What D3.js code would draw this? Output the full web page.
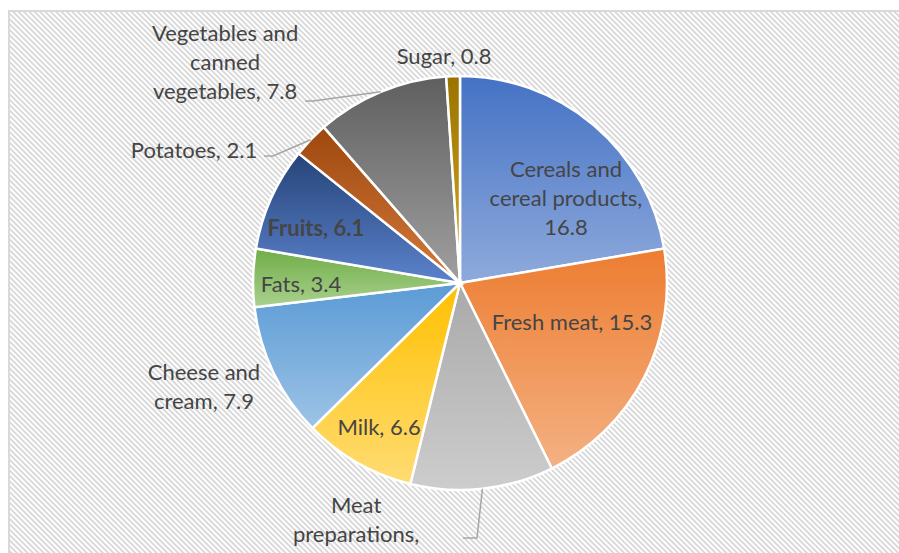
<!DOCTYPE html>
<html lang="en">
<head>
    <meta charset="UTF-8">
    <title>Food expenditure shares</title>
    <script src="https://cdnjs.cloudflare.com/ajax/libs/d3/7.8.5/d3.min.js"></script>
    <style>
        body {
            margin: 0;
            padding: 0;
            background-color: #ffffff;
            overflow: hidden;
        }
        #chart svg {
            display: block;
        }
        .label {
            font-family: Lato, 'Open Sans', sans-serif;
            font-size: 22px;
            fill: #454545;
        }
    </style>
</head>
<body>
    <div id="chart"></div>

    <script>
        // Data (clockwise from 12 o'clock)
        const categories = [
            "Cereals and cereal products", "Fresh meat", "Meat preparations", "Milk",
            "Cheese and cream", "Fats", "Fruits", "Potatoes",
            "Vegetables and canned vegetables", "Sugar"
        ];
        const values = [16.8, 15.3, 8.4, 6.6, 7.9, 3.4, 6.1, 2.1, 7.8, 0.8];
        // label text lines as they wrap in the picture
        // (the value line of "Meat preparations" falls below the picture's edge)
        const labelLines = [
            ["Cereals and", "cereal products,", "16.8"],
            ["Fresh meat, 15.3"],
            ["Meat", "preparations,"],
            ["Milk, 6.6"],
            ["Cheese and", "cream, 7.9"],
            ["Fats, 3.4"],
            ["Fruits, 6.1"],
            ["Potatoes, 2.1"],
            ["Vegetables and", "canned", "vegetables, 7.8"],
            ["Sugar, 0.8"]
        ];
        const topColors = ["#4472c4", "#ed7d31", "#a9a9a9", "#ffc000", "#5b9bd5",
                           "#70ad47", "#264478", "#9e480e", "#5f5f5f", "#997300"];
        const bottomColors = ["#8faadc", "#f4b183", "#cdcdcd", "#ffdc73", "#9dc3e6",
                              "#a9d18e", "#5b82cc", "#d47a3c", "#a0a0a0", "#d8aa22"];

        // Layout
        const width = 899;
        const height = 553;
        const cx = 460, cy = 283;
        const radius = 207;
        const lineH = 29;

        // label anchors, in radius units from the pie centre
        const labelOffsets = [
            [0.512, -0.415], [0.541, 0.188], [-0.502, 1.140], [-0.391, 0.691],
            [-1.237, 0.498], [-0.768, 0.0], [-0.696, -0.266], [-1.285, -0.643],
            [-1.135, -1.068], [-0.077, -1.097]
        ];
        // leader lines: slice index -> elbow and end points (radius units)
        const leaders = [
            { i: 2, pts: [[0.082, 1.232], [0.014, 1.232]] },
            { i: 7, pts: [[-0.903, -0.614], [-0.947, -0.614]] },
            { i: 8, pts: [[-0.710, -0.879], [-0.749, -0.879]] }
        ];

        const svg = d3.select("#chart")
            .append("svg")
            .attr("width", width)
            .attr("height", height);

        const defs = svg.append("defs");

        // diagonal hatch behind the chart
        const hatch = defs.append("pattern")
            .attr("id", "hatch")
            .attr("patternUnits", "userSpaceOnUse")
            .attr("width", 3.8)
            .attr("height", 3.8)
            .attr("patternTransform", "rotate(-45)");
        hatch.append("rect").attr("width", 3.8).attr("height", 3.8).attr("fill", "#ffffff");
        hatch.append("rect").attr("width", 1.9).attr("height", 3.8).attr("fill", "#d9d9d9");

        svg.append("rect")
            .attr("x", 9).attr("y", 11)
            .attr("width", width + 20).attr("height", height + 20)
            .attr("fill", "url(#hatch)")
            .attr("stroke", "#d9d9d9")
            .attr("stroke-width", 2);

        // one vertical gradient per slice
        values.forEach((v, i) => {
            const g = defs.append("linearGradient")
                .attr("id", "grad" + i)
                .attr("x1", 0).attr("y1", 0)
                .attr("x2", 0).attr("y2", 1);
            g.append("stop").attr("offset", "0%").attr("stop-color", topColors[i]);
            g.append("stop").attr("offset", "100%").attr("stop-color", bottomColors[i]);
        });

        const pie = d3.pie()
            .value(d => d)
            .sort(null);

        const arcs = pie(values);

        const arc = d3.arc()
            .innerRadius(0)
            .outerRadius(radius);

        const g = svg.append("g")
            .attr("transform", `translate(${cx}, ${cy})`);

        g.selectAll("path")
            .data(arcs)
            .join("path")
            .attr("d", arc)
            .attr("fill", (d, i) => `url(#grad${i})`)
            .attr("stroke", "white")
            .style("stroke-width", "2.5px");

        // leader lines start on the rim at each slice's middle
        const line = d3.line();
        leaders.forEach(l => {
            const a = arcs[l.i];
            const mid = (a.startAngle + a.endAngle) / 2;
            const start = [Math.sin(mid) * radius, -Math.cos(mid) * radius];
            const rest = l.pts.map(p => [p[0] * radius, p[1] * radius]);
            g.append("path")
                .attr("d", line([start].concat(rest)))
                .attr("fill", "none")
                .attr("stroke", "#a6a6a6")
                .attr("stroke-width", 1.5);
        });

        // labels
        labelLines.forEach((lines, i) => {
            const x = labelOffsets[i][0] * radius;
            const y = labelOffsets[i][1] * radius;
            const t = g.append("text")
                .attr("class", "label")
                .attr("text-anchor", "middle")
                .style("font-weight", categories[i] === "Fruits" ? "bold" : "normal");
            lines.forEach((s, k) => {
                t.append("tspan")
                    .attr("x", x)
                    .attr("y", y + (k - (lines.length - 1) / 2) * lineH)
                    .attr("dominant-baseline", "central")
                    .text(s);
            });
        });
    </script>
</body>
</html>
